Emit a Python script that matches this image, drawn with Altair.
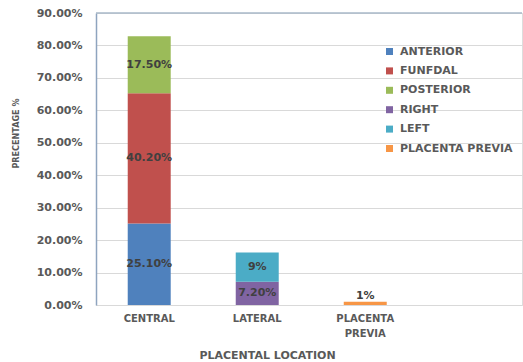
import altair as alt
import pandas as pd

# Placental location survey: share of cases by location and position
locations = ["CENTRAL", "CENTRAL", "CENTRAL", "LATERAL", "LATERAL", "PLACENTA PREVIA"]
positions = ["ANTERIOR", "FUNFDAL", "POSTERIOR", "RIGHT", "LEFT", "PLACENTA PREVIA"]
values = [25.10, 40.20, 17.50, 7.20, 9.0, 1.0]
value_labels = ["25.10%", "40.20%", "17.50%", "7.20%", "9%", "1%"]
stack_order = [0, 1, 2, 3, 4, 5]

categories = ["CENTRAL", "LATERAL", "PLACENTA PREVIA"]
series = ["ANTERIOR", "FUNFDAL", "POSTERIOR", "RIGHT", "LEFT", "PLACENTA PREVIA"]
colors = ["#4F81BD", "#C0504D", "#9BBB59", "#8064A2", "#4BACC6", "#F79646"]
y_ticks = [0, 10, 20, 30, 40, 50, 60, 70, 80, 90]

df = pd.DataFrame({
    "location": locations,
    "position": positions,
    "value": values,
    "label": value_labels,
    "order": stack_order,
})

FONT = "DejaVu Sans"
GREY = "#595959"

x_scale = alt.Scale(domain=categories, paddingInner=0.602, paddingOuter=0.773, align=0.19)
y_scale = alt.Scale(domain=[0, 90], nice=False)

base = alt.Chart(df)

bars = base.mark_bar().encode(
    x=alt.X("location:N", scale=x_scale, sort=categories,
            axis=alt.Axis(title="PLACENTAL LOCATION", labelAngle=0,
                          labelExpr="split(datum.label, ' ')",
                          labelFont=FONT, labelFontWeight="bold", labelFontSize=10,
                          labelColor=GREY, labelPadding=8, labelLineHeight=15,
                          ticks=False, domain=False,
                          titleFont=FONT, titleFontWeight="bold", titleFontSize=11,
                          titleColor=GREY, titleX=171, titleY=50,
                          titleAnchor="middle", titleAlign="center",
                          titleBaseline="middle")),
    y=alt.Y("value:Q", stack="zero", scale=y_scale,
            axis=alt.Axis(title="PRECENTAGE %", values=y_ticks, tickCount=10,
                          labelOverlap=False,
                          labelExpr="format(datum.value, '.2f') + '%'",
                          labelFont=FONT, labelFontWeight="bold", labelFontSize=11,
                          labelColor=GREY, labelPadding=14, ticks=False,
                          domainColor="#8EA4BF", domainWidth=1.5,
                          gridColor="#D9D9D9", gridWidth=1,
                          titleFont="DejaVu Sans Condensed, Liberation Sans Narrow, Liberation Sans",
                          titleFontWeight="bold",
                          titleFontSize=9, titleColor=GREY, titleAngle=-90,
                          titleX=-81, titleY=120, titleAlign="center",
                          titleBaseline="middle")),
    color=alt.Color("position:N", scale=alt.Scale(domain=series, range=colors),
                    legend=alt.Legend(title=None, orient="none", legendX=288, legendY=33,
                                      symbolType="square", symbolSize=49,
                                      symbolStrokeWidth=0, labelFont=FONT,
                                      labelFontWeight="bold", labelFontSize=11,
                                      labelColor=GREY, labelOffset=5, rowPadding=7.4,
                                      padding=0)),
    order=alt.Order("order:Q"),
)

# Data labels centred in each segment; thin segments get their label above
labels = base.transform_stack(
    stack="value", groupby=["location"], as_=["y0", "y1"],
    sort=[alt.SortField("order", order="ascending")],
).transform_calculate(
    ypos="datum.value < 2 ? datum.y1 + 1.8 : (datum.y0 + datum.y1) / 2"
).mark_text(font=FONT, fontWeight="bold", fontSize=11, color="#404040",
            baseline="middle").encode(
    x=alt.X("location:N", scale=x_scale, sort=categories),
    y=alt.Y("ypos:Q", scale=y_scale),
    text="label:N",
)

top_line = alt.Chart().mark_rule(color="#A9B8C8", strokeWidth=1.5).encode(
    y=alt.datum(90)
)

chart = alt.layer(bars, labels, top_line).properties(
    width=426, height=292,
    padding={"left": 96, "top": 13, "right": 1, "bottom": 57},
    autosize=alt.AutoSizeParams(type="none"),
).configure_view(stroke=None).configure(background="white")

chart.save("out.html", embed_options={"renderer": "svg", "actions": False})
